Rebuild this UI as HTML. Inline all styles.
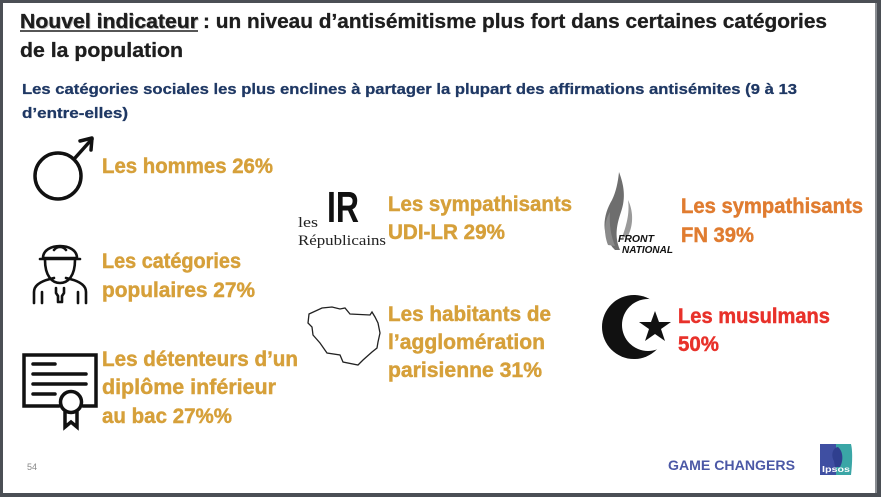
<!DOCTYPE html>
<html><head><meta charset="utf-8"><style>
html,body{margin:0;padding:0;background:#4b4f55;}
svg{display:block;}
text{font-family:"Liberation Sans",sans-serif;}
</style></head><body>
<svg width="881" height="497" viewBox="0 0 881 497" xmlns="http://www.w3.org/2000/svg">
<rect x="0" y="0" width="881" height="497" fill="#4b4f55"/>
<rect x="875" y="3" width="2" height="490" fill="#8a8d92"/>
<rect x="3" y="3" width="872" height="490" fill="#ffffff"/>

<!-- Title -->
<text x="21" y="29" font-size="20" font-weight="bold" fill="#b8b8b8" textLength="178" lengthAdjust="spacingAndGlyphs">Nouvel indicateur</text>
<text x="20" y="28" font-size="20" font-weight="bold" fill="#1e1e1e" stroke="#1e1e1e" stroke-width="0.3" textLength="178" lengthAdjust="spacingAndGlyphs">Nouvel indicateur</text>
<line x1="20" y1="31" x2="198" y2="31" stroke="#1e1e1e" stroke-width="1.5"/>
<text x="203" y="28" font-size="20" font-weight="bold" fill="#1e1e1e" stroke="#1e1e1e" stroke-width="0.3" textLength="624" lengthAdjust="spacingAndGlyphs">: un niveau d’antisémitisme plus fort dans certaines catégories</text>
<text x="20" y="57" font-size="20" font-weight="bold" fill="#1e1e1e" stroke="#1e1e1e" stroke-width="0.3" textLength="163" lengthAdjust="spacingAndGlyphs">de la population</text>

<!-- Subtitle -->
<text x="22" y="94" font-size="14.5" font-weight="bold" fill="#1f3864" stroke="#1f3864" stroke-width="0.25" textLength="775" lengthAdjust="spacingAndGlyphs">Les catégories sociales les plus enclines à partager la plupart des affirmations antisémites (9 à 13</text>
<text x="22" y="118" font-size="14.5" font-weight="bold" fill="#1f3864" stroke="#1f3864" stroke-width="0.25" textLength="106" lengthAdjust="spacingAndGlyphs">d’entre-elles)</text>

<!-- Left column texts -->
<g font-size="21" font-weight="bold" fill="#d6a03a" stroke="#d6a03a" stroke-width="0.45">
<text x="102" y="173" textLength="171" lengthAdjust="spacingAndGlyphs">Les hommes 26%</text>
<text x="102" y="268" textLength="139" lengthAdjust="spacingAndGlyphs">Les catégories</text>
<text x="102" y="297" textLength="153" lengthAdjust="spacingAndGlyphs">populaires 27%</text>
<text x="102" y="366" textLength="196" lengthAdjust="spacingAndGlyphs">Les détenteurs d’un</text>
<text x="102" y="394" textLength="174" lengthAdjust="spacingAndGlyphs">diplôme inférieur</text>
<text x="102" y="423" textLength="130" lengthAdjust="spacingAndGlyphs">au bac 27%%</text>
<!-- middle column -->
<text x="388" y="211" textLength="184" lengthAdjust="spacingAndGlyphs">Les sympathisants</text>
<text x="388" y="239" textLength="117" lengthAdjust="spacingAndGlyphs">UDI-LR 29%</text>
<text x="388" y="321" textLength="163" lengthAdjust="spacingAndGlyphs">Les habitants de</text>
<text x="388" y="349" textLength="157" lengthAdjust="spacingAndGlyphs">l’agglomération</text>
<text x="388" y="377" textLength="154" lengthAdjust="spacingAndGlyphs">parisienne 31%</text>
</g>
<g font-size="21" font-weight="bold" fill="#e07c30" stroke="#e07c30" stroke-width="0.45">
<text x="681" y="213" textLength="182" lengthAdjust="spacingAndGlyphs">Les sympathisants</text>
<text x="681" y="242" textLength="73" lengthAdjust="spacingAndGlyphs">FN 39%</text>
</g>
<g font-size="21" font-weight="bold" fill="#e8312a" stroke="#e8312a" stroke-width="0.45">
<text x="678" y="323" textLength="152" lengthAdjust="spacingAndGlyphs">Les musulmans</text>
<text x="678" y="351" textLength="41" lengthAdjust="spacingAndGlyphs">50%</text>
</g>

<!-- Male icon -->
<g fill="none" stroke="#111" stroke-width="3.5" stroke-linecap="round" stroke-linejoin="round">
<circle cx="58" cy="176" r="23"/>
<line x1="75" y1="158" x2="92" y2="139"/>
<polyline points="80,141 92,138 91,150"/>
</g>

<!-- Worker icon -->
<g fill="none" stroke="#111" stroke-width="2.6" stroke-linecap="round" stroke-linejoin="round">
<path d="M43,258 C43,242 77,242 77,258 Z"/>
<path d="M54,250 C57,246 63,246 66,250"/>
<line x1="40" y1="259" x2="80" y2="259"/>
<path d="M45,260 C45,276 52,283 60,283 C68,283 75,276 75,260"/>
<path d="M34,303 L34,292 C34,285 42,281 50,279 L54,278"/>
<path d="M86,303 L86,292 C86,285 78,281 70,279 L66,278"/>
<path d="M42,303 L42,292 M78,303 L78,292"/>
<path d="M56,288 L56,293 L58,296 L58,302 L62,302 L62,296 L64,293 L64,288"/>
</g>

<!-- Diploma icon -->
<g fill="none" stroke="#111" stroke-width="3.5" stroke-linecap="round" stroke-linejoin="miter">
<polyline points="59,406 24,406 24,355 96,355 96,406 83,406"/>
<line x1="33" y1="364" x2="55" y2="364"/>
<line x1="33" y1="374" x2="86" y2="374"/>
<line x1="33" y1="384" x2="86" y2="384"/>
<line x1="33" y1="394" x2="55" y2="394"/>
<circle cx="71" cy="402" r="10.5"/>
<polyline points="65,412 65,427 71,422 77,427 77,412"/>
</g>

<!-- LR logo -->
<text x="327" y="222" font-size="44" font-weight="bold" fill="#111" textLength="32" lengthAdjust="spacingAndGlyphs" style="font-family:'Liberation Sans Narrow','Liberation Sans',sans-serif">IR</text>
<text x="298" y="227" font-size="15" fill="#222" style="font-family:'Liberation Serif',serif" textLength="20" lengthAdjust="spacingAndGlyphs">les</text>
<text x="298" y="245" font-size="15" fill="#222" style="font-family:'Liberation Serif',serif" textLength="88" lengthAdjust="spacingAndGlyphs">Républicains</text>

<!-- Paris outline -->
<polygon fill="none" stroke="#222" stroke-width="1.3" points="309,314 322,308 332,307 340,309 345,308 350,314 370,315 372,312 375,317 378,323 380,333 378,342 377,348 372,352 363,360 358,365 343,362 340,355 327,353 320,343 313,335 312,327 308,323"/>

<!-- FN logo -->
<g fill="#6e6e6e">
<path d="M615,250 C600,235 603,215 612,200 C616,192 618,182 619,172 C624,185 626,198 621,212 C617,224 614,236 620,250 Z"/>
<path d="M608,245 C603,232 605,220 610,212 C609,225 611,236 615,246 Z" fill="#8a8a8a"/>
<path d="M622,238 C626,226 630,214 628,200 C633,210 634,224 628,236 Z" fill="#9a9a9a"/>
</g>
<text x="618" y="242" font-size="10" font-weight="bold" font-style="italic" fill="#111" textLength="36" lengthAdjust="spacingAndGlyphs">FRONT</text>
<text x="622" y="253" font-size="10" font-weight="bold" font-style="italic" fill="#111" textLength="51" lengthAdjust="spacingAndGlyphs">NATIONAL</text>

<!-- Crescent & star -->
<circle cx="634" cy="327" r="32" fill="#111"/>
<circle cx="648" cy="325" r="26" fill="#fff"/>
<polygon fill="#111" points="655,311 659,322 671,322 661,329 665,341 655,334 645,341 649,329 639,322 651,322"/>

<!-- Footer -->
<text x="27" y="470" font-size="9" fill="#888">54</text>
<text x="668" y="470" font-size="13.5" font-weight="bold" fill="#4b58a6" textLength="127" lengthAdjust="spacingAndGlyphs">GAME CHANGERS</text>
<rect x="820" y="444" width="17" height="31" fill="#3f4fa2"/>
<path d="M836,444 L851,444 C853,452 852,466 851,475 L836,475 Z" fill="#3aa6a6"/>
<path d="M838,447 C832,448 831,456 834,461 L835,467 L840,467 C843,462 844,452 838,447 Z" fill="#2f3f8f"/>
<text x="822" y="472" font-size="8.5" font-weight="bold" fill="#fff" textLength="28" lengthAdjust="spacingAndGlyphs">Ipsos</text>
</svg>
</body></html>
